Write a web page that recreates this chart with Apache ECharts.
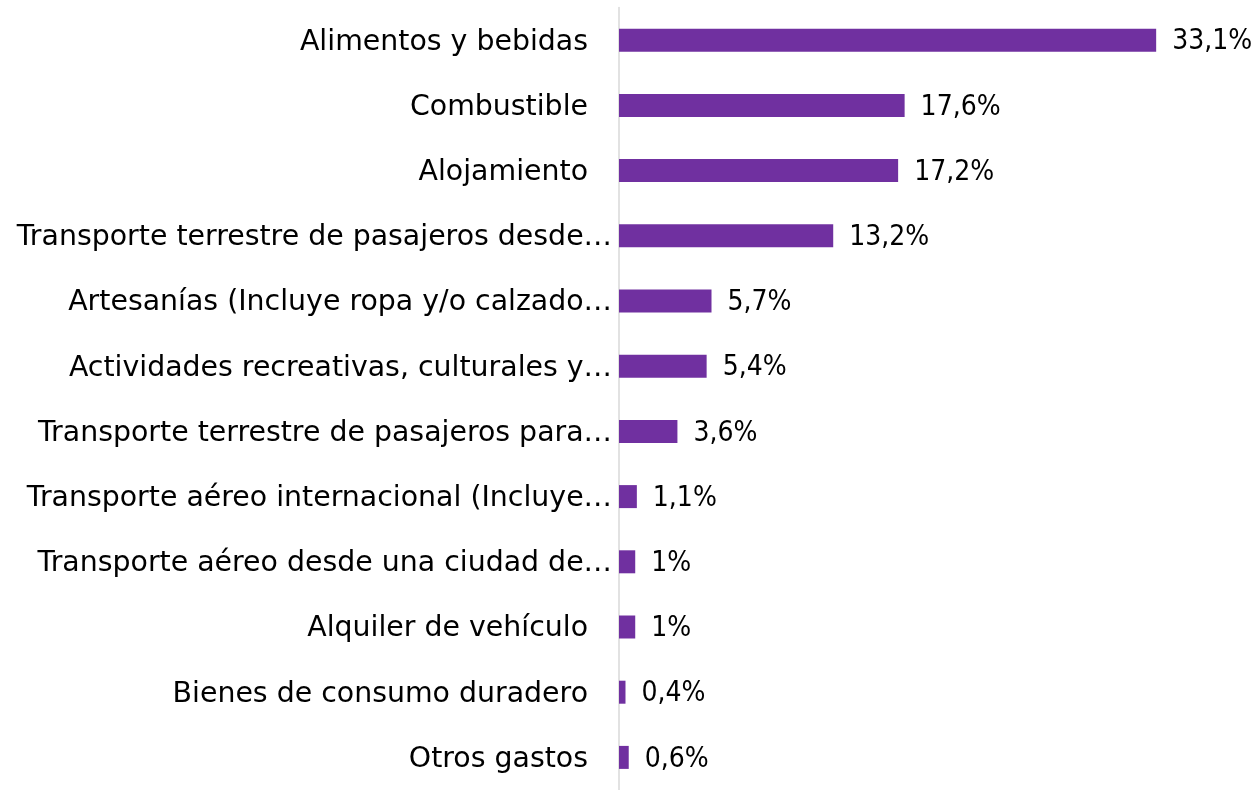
<!DOCTYPE html>
<html>
<head>
<meta charset="utf-8">
<script src="https://cdn.jsdelivr.net/npm/echarts@6/dist/echarts.min.js"></script>
<style>
html,body{margin:0;padding:0;background:#fff;}
#c{width:1258px;height:790px;}
</style>
</head>
<body>
<div id="c"></div>
<script>
const categories = [
  "Alimentos y bebidas",
  "Combustible",
  "Alojamiento",
  "Transporte terrestre de pasajeros desde…",
  "Artesanías (Incluye ropa y/o calzado…",
  "Actividades recreativas, culturales y…",
  "Transporte terrestre de pasajeros para…",
  "Transporte aéreo internacional (Incluye…",
  "Transporte aéreo desde una ciudad de…",
  "Alquiler de vehículo",
  "Bienes de consumo duradero",
  "Otros gastos"
];
const values = [33.1, 17.6, 17.2, 13.2, 5.7, 5.4, 3.6, 1.1, 1, 1, 0.4, 0.6];
const valueLabels = ["33,1%", "17,6%", "17,2%", "13,2%", "5,7%", "5,4%", "3,6%", "1,1%", "1%", "1%", "0,4%", "0,6%"];

const FONT = "DejaVu Sans";
const VFONT = "DejaVu Sans Condensed";
const FS = 28.4;
const VFS = 28;
const chart = echarts.init(document.getElementById('c'));
chart.setOption({
  animation: false,
  grid: { left: 619, right: 71, top: 7.6, bottom: -6, containLabel: false },
  xAxis: { type: 'value', min: 0, max: 35, show: false },
  yAxis: {
    type: 'category',
    data: categories,
    inverse: true,
    axisLine: { show: true, lineStyle: { color: '#d9d9d9', width: 1.5 } },
    axisTick: { show: false },
    axisLabel: {
      margin: 7,
      color: '#000',
      fontFamily: FONT,
      fontSize: FS,
      formatter: function (v) {
        return v.endsWith('…') ? '{t|' + v + '}' : '{n|' + v + '}';
      },
      rich: {
        t: { fontFamily: FONT, fontSize: FS, color: '#000', padding: [4, 0, 0, 0] },
        n: { fontFamily: FONT, fontSize: FS, color: '#000', padding: [4, 24, 0, 0] }
      }
    }
  },
  series: [{
    type: 'bar',
    data: values,
    barWidth: 23,
    itemStyle: { color: '#7030A0' },
    label: {
      show: true,
      position: 'right',
      distance: 16,
      offset: [0, 2],
      color: '#000',
      fontFamily: VFONT,
      fontSize: VFS,
      formatter: function (p) { return valueLabels[p.dataIndex]; }
    }
  }]
});
</script>
</body>
</html>
